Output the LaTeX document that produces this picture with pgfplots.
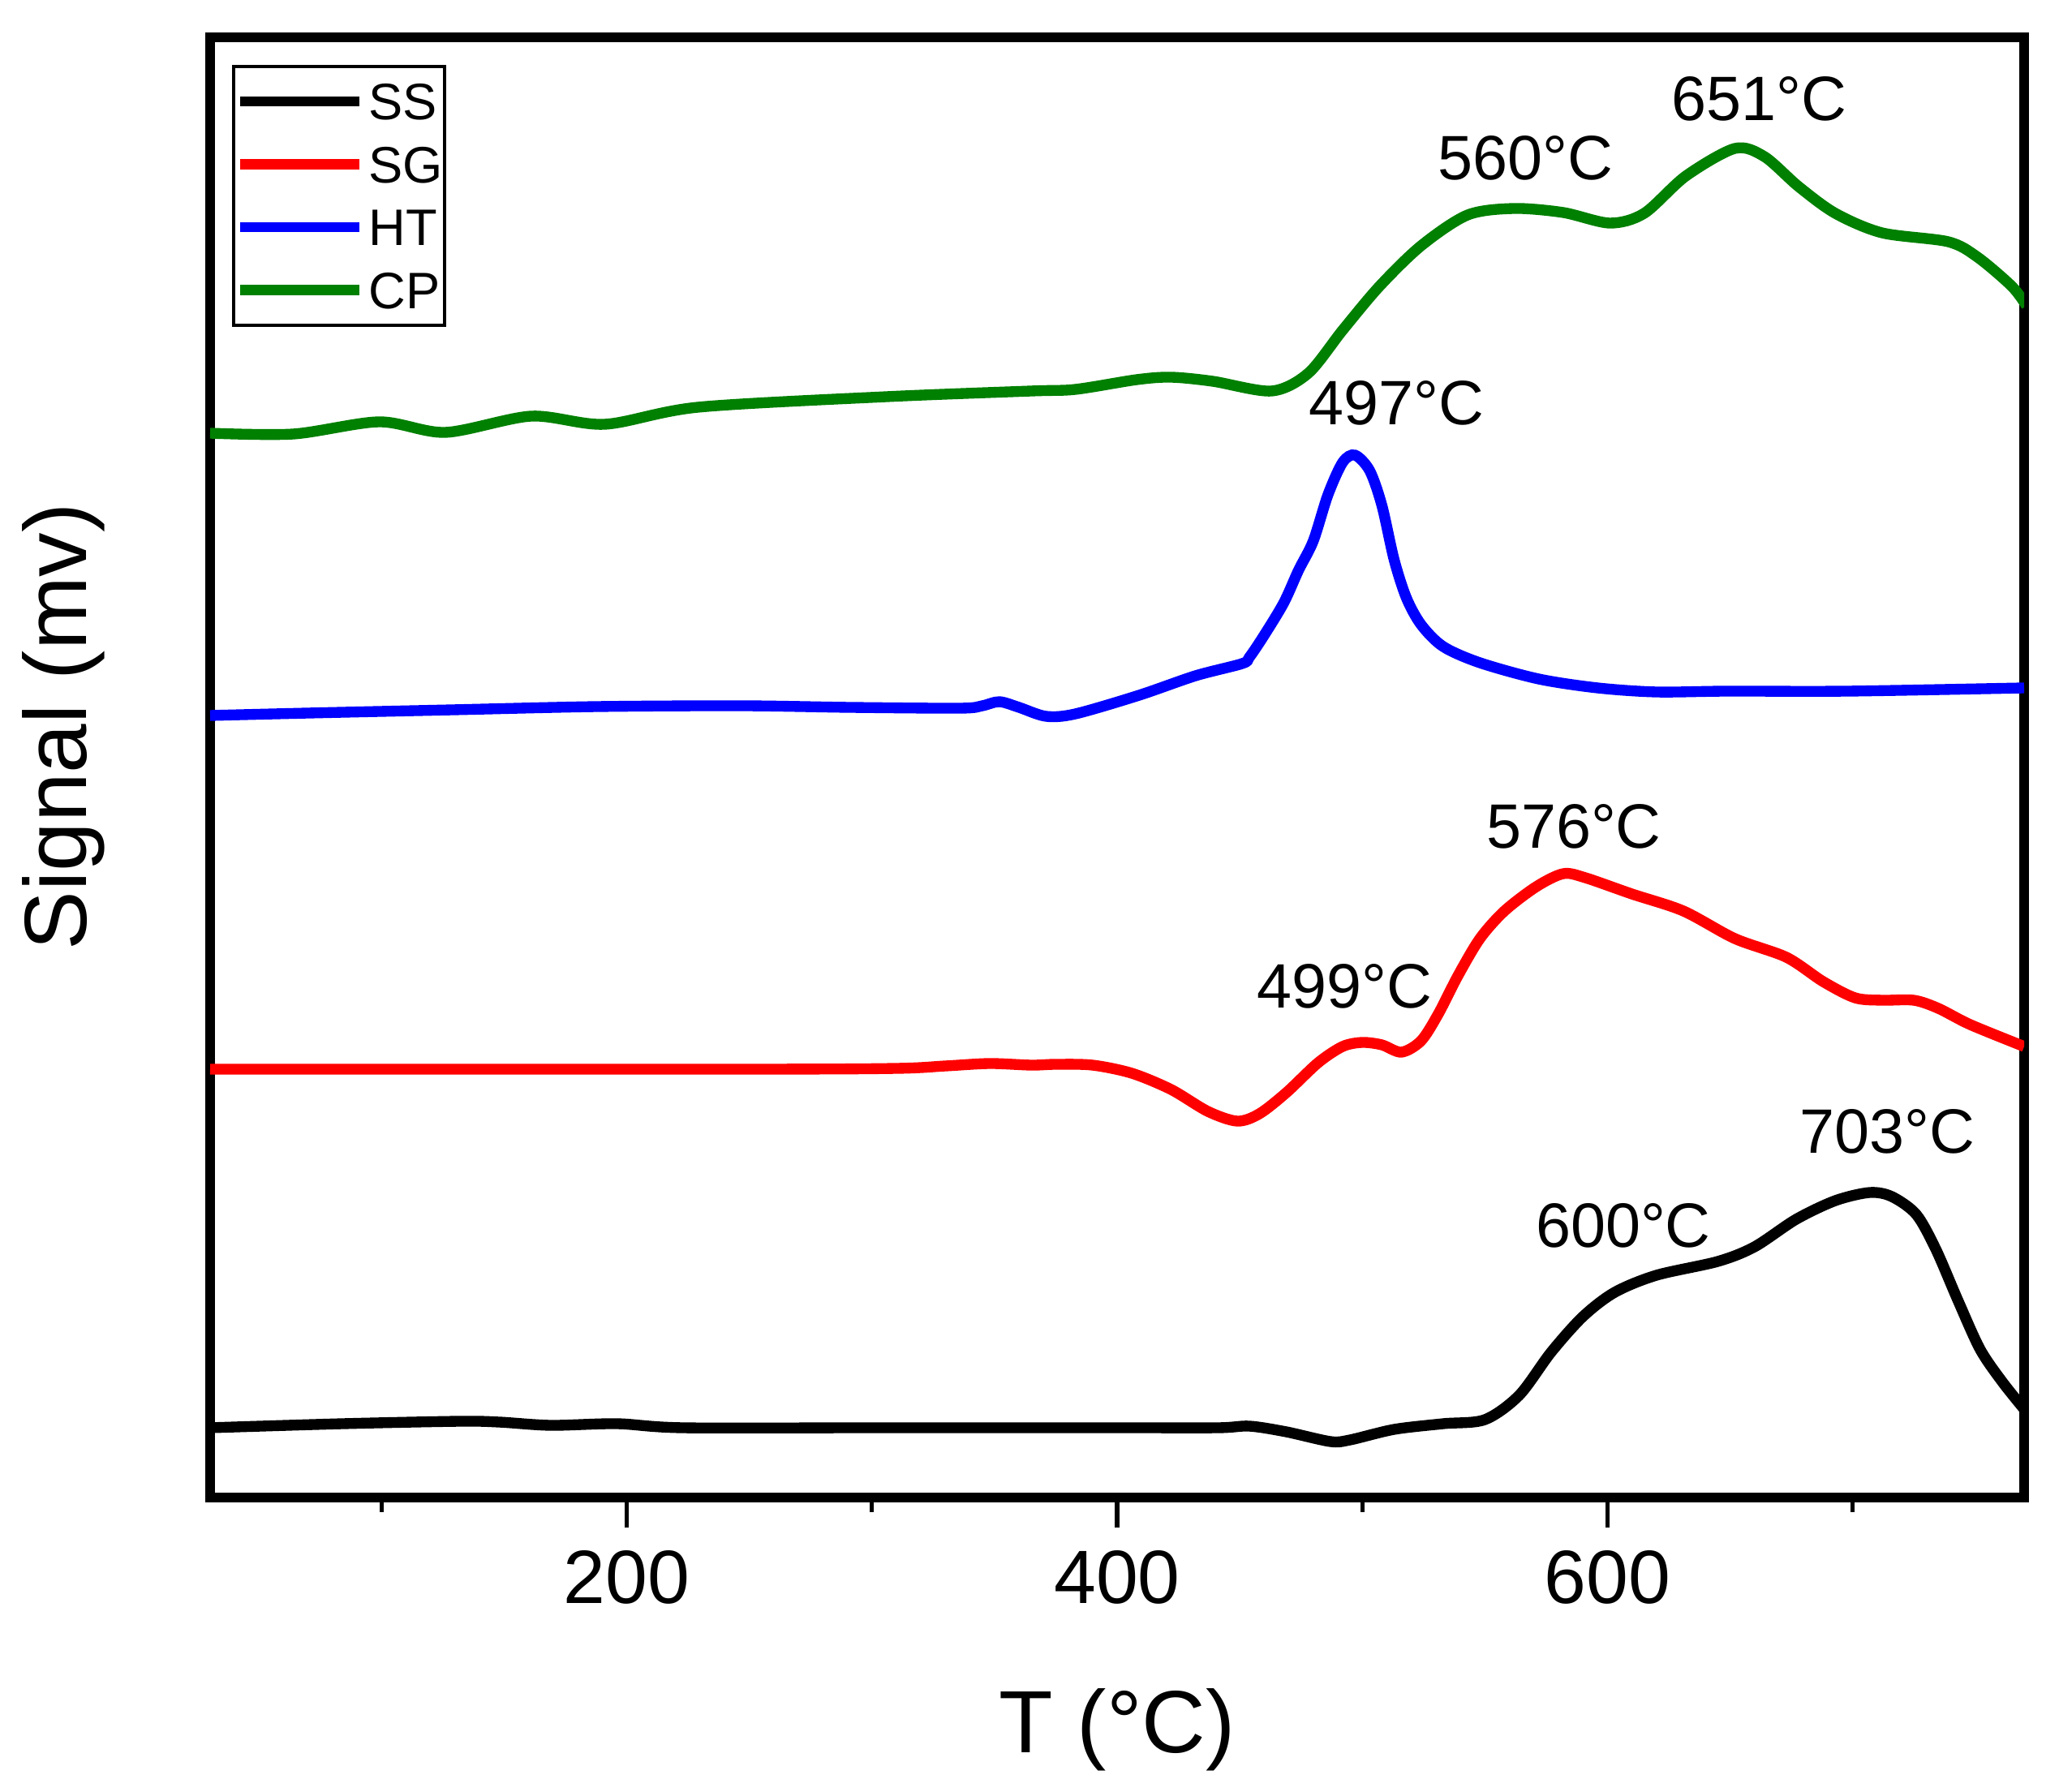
\documentclass[border=0pt]{standalone}
\usepackage{fontspec}
\setmainfont{Liberation Sans}
\usepackage{pgfplots}
\pgfplotsset{compat=1.18}
\definecolor{cpgreen}{RGB}{0,128,0}
\definecolor{sgred}{RGB}{255,0,0}
\definecolor{htblue}{RGB}{0,0,255}
\begin{document}
\begin{tikzpicture}
\useasboundingbox (0,0) rectangle (25.38cm,22.08cm);
\begin{axis}[
  at={(2.59cm,3.62cm)}, anchor=south west,
  width=22.36cm, height=18cm, scale only axis,
  xmin=30, xmax=770, ymin=-1846, ymax=-46,
  xtick={200,400,600}, minor xtick={100,300,500,700},
  ytick=\empty,
  xtick pos=bottom, tick align=outside,
  major tick length=3.7mm, minor tick length=1.8mm,
  major tick style={black, line width=1.5pt},
  minor tick style={black, line width=1.5pt},
  axis line style={line width=3.4pt},
  /pgf/number format/assume math mode=true,
  xticklabel style={font=\fontsize{26.5pt}{30pt}\selectfont, yshift=-1.6mm},
  xlabel={T (°C)}, ylabel={Signal (mv)},
  xlabel style={font=\fontsize{31pt}{36pt}\selectfont, at={(axis description cs:0.5,-0.159)}, anchor=center},
  ylabel style={font=\fontsize{31pt}{36pt}\selectfont, at={(axis description cs:-0.081,0.528)}, anchor=center},
  legend style={at={(axis description cs:0.012,0.981)}, anchor=north west, draw=black, line width=1.1pt,
    font=\fontsize{18pt}{20pt}\selectfont, inner xsep=0.4pt, inner ysep=5.8pt, row sep=9.15pt, column sep=1.6pt,
    nodes={inner sep=0pt, text height=12.9pt, text depth=0pt}},
  legend cell align=left,
  legend image code/.code={\path (0cm,0cm); \draw[#1, line width=3.6pt] (0cm,0pt) -- (1.47cm,0pt);},
  every axis plot/.append style={line width=3.8pt, smooth, tension=0.5},
]
\addplot[black] coordinates {
(30,-1760) (84,-1755) (132,-1752) (148,-1753) (169,-1757) (196,-1755) (223,-1760) (300,-1760) (400,-1760)
(441,-1760) (454,-1758) (469,-1765) (487,-1777) (495,-1775) (513,-1762) (533,-1755) (550,-1750)
(564,-1720) (577,-1667) (590,-1623) (603,-1593) (620,-1572) (645,-1555) (660,-1537) (677,-1503)
(693,-1480) (707,-1470) (716,-1475) (726,-1497) (734,-1540) (743,-1603) (752,-1663) (761,-1703) (770,-1737)
};
\addlegendentry{SS}
\addplot[sgred] coordinates {
(30,-1318) (250,-1318) (310,-1317) (330,-1314) (348,-1311) (365,-1313) (375,-1312) (390,-1313) (406,-1323) (422,-1343)
(437,-1370) (449,-1382) (458,-1373) (469,-1347) (482,-1310) (492,-1290) (500,-1285) (508,-1288) (516,-1297)
(524,-1283) (531,-1250) (539,-1203) (548,-1157) (558,-1123) (571,-1093) (582,-1077) (591,-1082) (610,-1102)
(631,-1123) (652,-1157) (673,-1180) (688,-1210) (701,-1230) (712,-1233) (725,-1233) (735,-1243) (748,-1263) (770,-1290)
};
\addlegendentry{SG}
\addplot[htblue] coordinates {
(30,-882) (70,-879) (129,-875) (188,-871) (247,-870) (291,-872) (336,-873) (345,-870) (352,-865) (360,-872)
(371,-883) (383,-880) (409,-857) (432,-833) (451,-818) (454,-810) (460,-783) (468,-743) (474,-703) (480,-667)
(486,-610) (492,-570) (497,-561) (503,-580) (508,-623) (513,-690) (518,-737) (524,-770) (533,-797) (548,-817)
(572,-837) (596,-848) (620,-853) (649,-852) (698,-852) (770,-848)
};
\addlegendentry{HT}
\addplot[cpgreen] coordinates {
(30,-534) (64,-535) (99,-520) (126,-533) (161,-513) (191,-523) (229,-502) (306,-489) (365,-482) (383,-480)
(408,-468) (422,-465) (439,-470) (463,-482) (478,-460) (492,-407) (507,-353) (524,-303) (543,-265) (562,-257)
(582,-262) (601,-275) (615,-263) (632,-217) (652,-183) (664,-193) (678,-230) (693,-263) (712,-287) (739,-298)
(751,-317) (765,-353) (771,-377)
};
\addlegendentry{CP}
\begin{scope}[every node/.style={font=\fontsize{22pt}{26pt}\selectfont, inner sep=0pt, anchor=center}]
\node at (axis cs:661.8,-122) {651°C};
\node at (axis cs:566.5,-195) {560°C};
\node at (axis cs:513.9,-497) {497°C};
\node at (axis cs:586.3,-1019) {576°C};
\node at (axis cs:492.7,-1216) {499°C};
\node at (axis cs:714.1,-1395) {703°C};
\node at (axis cs:606.5,-1511) {600°C};
\end{scope}
\end{axis}
\end{tikzpicture}
\end{document}
